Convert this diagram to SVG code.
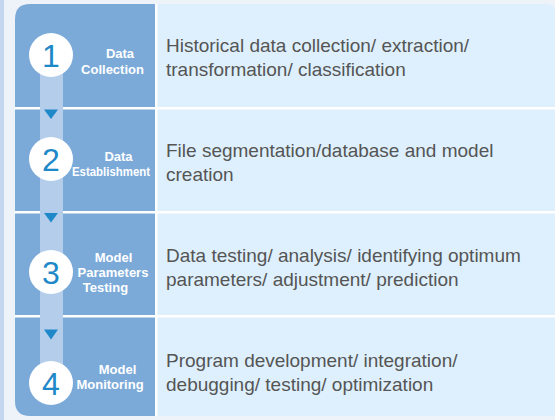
<svg xmlns="http://www.w3.org/2000/svg" width="555" height="420" viewBox="0 0 555 420">
<defs>
<style>
.bg{fill:#eef3fa}
.edge{fill:#c3d8ef}
.col{fill:#7baad9}
.desc{fill:#def0fd}
.sep{fill:#ffffff}
.strip{fill:#b3cdea}
.circ{fill:#ffffff}
.num{font-family:"Liberation Sans",Arial,sans-serif;font-size:32px;fill:#1e88c8;text-anchor:middle}
.lab{font-family:"Liberation Sans",Arial,sans-serif;font-size:13px;font-weight:bold;fill:#ffffff;text-anchor:middle}
.txt{font-family:"Liberation Sans",Arial,sans-serif;font-size:19px;fill:#555555}
.tri{fill:#1e88c8}
</style>
</defs>
<rect class="bg" x="0" y="0" width="555" height="420"/>
<rect class="edge" x="0" y="0" width="4" height="420"/>
<g id="panel">
<path class="desc" d="M157,4 H546 Q556,4 556,14 V416 H157 Z"/>
<path class="col" d="M30,4 H155 V416 H30 Q15,416 15,401 V19 Q15,4 30,4 Z"/>
<rect class="sep" x="155" y="4" width="2.5" height="412"/>
<rect class="sep" x="15" y="107" width="541" height="2.5"/>
<rect class="sep" x="15" y="211" width="541" height="2.5"/>
<rect class="sep" x="15" y="315" width="541" height="2.5"/>
</g>
<g id="connectors">
<rect class="strip" x="40" y="55" width="23" height="328"/>
<polygon class="tri" points="44,109.5 58,109.5 51,119"/>
<polygon class="tri" points="44,213 58,213 51,222.5"/>
<polygon class="tri" points="44,329.5 58,329.5 51,339.5"/>
</g>
<g id="step1">
<circle class="circ" cx="51" cy="55" r="22"/>
<text class="num" x="51" y="66.5">1</text>
<text class="lab" x="120" y="58">Data</text>
<text class="lab" x="112.5" y="74">Collection</text>
<text class="txt" x="166" y="51.7">Historical data collection/ extraction/</text>
<text class="txt" x="166" y="75.5">transformation/ classification</text>
</g>
<g id="step2">
<circle class="circ" cx="51" cy="159" r="22"/>
<text class="num" x="51" y="170.5">2</text>
<text class="lab" x="118.5" y="160.7">Data</text>
<text class="lab" x="111" y="176" textLength="78" lengthAdjust="spacingAndGlyphs">Establishment</text>
<text class="txt" x="166" y="156.7">File segmentation/database and model</text>
<text class="txt" x="166" y="180.5">creation</text>
</g>
<g id="step3">
<circle class="circ" cx="51" cy="272" r="22"/>
<text class="num" x="51" y="283.5">3</text>
<text class="lab" x="113.5" y="261.7">Model</text>
<text class="lab" x="113" y="277">Parameters</text>
<text class="lab" x="105.5" y="292">Testing</text>
<text class="txt" x="166" y="261.7">Data testing/ analysis/ identifying optimum</text>
<text class="txt" x="166" y="285.5">parameters/ adjustment/ prediction</text>
</g>
<g id="step4">
<circle class="circ" cx="51" cy="383" r="22"/>
<text class="num" x="51" y="394.5">4</text>
<text class="lab" x="117.5" y="374">Model</text>
<text class="lab" x="110" y="389">Monitoring</text>
<text class="txt" x="166" y="366.7">Program development/ integration/</text>
<text class="txt" x="166" y="390.5">debugging/ testing/ optimization</text>
</g>
</svg>
